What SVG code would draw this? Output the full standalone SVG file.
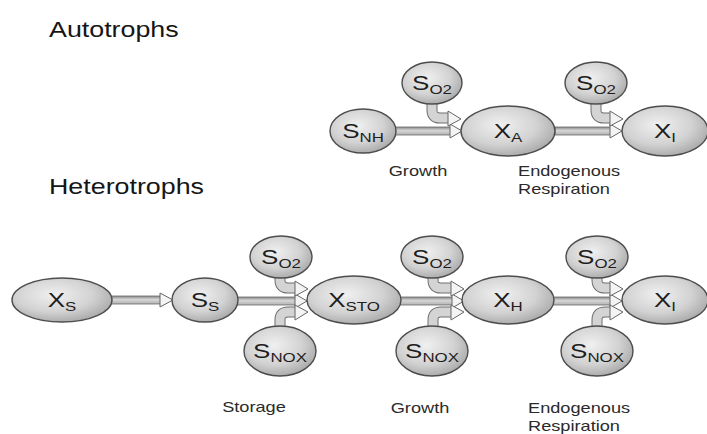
<svg xmlns="http://www.w3.org/2000/svg" width="707" height="434" viewBox="0 0 707 434">
  <defs>
    <radialGradient id="nodeFill" cx="42%" cy="38%" r="65%">
      <stop offset="0" stop-color="#f0f0f0"/>
      <stop offset="0.6" stop-color="#d2d2d2"/>
      <stop offset="1" stop-color="#a9a9a9"/>
    </radialGradient>
    <linearGradient id="shaftFill" x1="0" y1="0" x2="0" y2="1">
      <stop offset="0" stop-color="#8a8a8a"/>
      <stop offset="0.45" stop-color="#d6d6d6"/>
      <stop offset="1" stop-color="#b0b0b0"/>
    </linearGradient>
    <style>
      .node ellipse { fill: url(#nodeFill); stroke: #4d4d4d; stroke-width: 1.4; }
      .lbl { font-family: "Liberation Sans", Arial, sans-serif; font-size: 20px; fill: #1e1e1e; text-anchor: middle; }
      .lbl tspan.sub { font-size: 13px; }
      .title { font-family: "Liberation Sans", Arial, sans-serif; font-size: 22px; fill: #151515; }
      .note { font-family: "Liberation Sans", Arial, sans-serif; font-size: 14px; fill: #2a2a2a; }
      .shaft { fill: url(#shaftFill); stroke: #6a6a6a; stroke-width: 0.8; }
      .head { fill: #f4f4f4; stroke: #666; stroke-width: 1; stroke-linejoin: miter; }
      .bandOut { fill: none; stroke: #6e6e6e; stroke-width: 11; }
      .bandIn { fill: none; stroke: #d4d4d4; stroke-width: 9; }
    </style>
  </defs>

  <rect width="707" height="434" fill="#ffffff"/>

  <!-- section titles -->
  <text class="title" transform="translate(49 37) scale(1.22 1)">Autotrophs</text>
  <text class="title" transform="translate(49 194) scale(1.22 1)">Heterotrophs</text>

  <!-- process labels -->
  <text class="note" text-anchor="middle" transform="translate(418 176) scale(1.3 1)">Growth</text>
  <text class="note" transform="translate(518 176) scale(1.3 1)">Endogenous</text>
  <text class="note" transform="translate(518 194) scale(1.3 1)">Respiration</text>
  <text class="note" text-anchor="middle" transform="translate(254 412) scale(1.3 1)">Storage</text>
  <text class="note" text-anchor="middle" transform="translate(420 413) scale(1.3 1)">Growth</text>
  <text class="note" transform="translate(528 413) scale(1.3 1)">Endogenous</text>
  <text class="note" transform="translate(528 431) scale(1.3 1)">Respiration</text>

  <!-- connectors -->
  <g id="connectors">
    <!-- autotrophs: S_NH -> X_A -->
    <rect class="shaft" x="395" y="127" width="56" height="8"/>
    <polygon class="head" points="450,124 462,131 450,138"/>
    <!-- S_O2 -> X_A -->
    <path class="bandOut" d="M432,102 V110 Q432,118 440,118 H449"/>
    <path class="bandIn" d="M432,102 V110 Q432,118 440,118 H450"/>
    <polygon class="head" points="448,111 461,119 448,126"/>
    <!-- X_A -> X_I -->
    <rect class="shaft" x="555" y="127" width="56" height="8"/>
    <polygon class="head" points="610,124 622,131 610,138"/>
    <!-- S_O2 -> X_I -->
    <path class="bandOut" d="M596,102 V110 Q596,118 604,118 H611"/>
    <path class="bandIn" d="M596,102 V110 Q596,118 604,118 H612"/>
    <polygon class="head" points="610,111 623,119 610,126"/>

    <!-- heterotrophs: X_S -> S_S -->
    <rect class="shaft" x="111" y="296" width="50" height="8"/>
    <polygon class="head" points="160,293 173,300 160,307"/>
    <!-- S_S -> X_STO -->
    <rect class="shaft" x="237" y="297" width="59" height="8"/>
    <polygon class="head" points="295,294 307,301 295,308"/>
    <!-- S_O2 -> X_STO -->
    <path class="bandOut" d="M280,277 V280 Q280,288 288,288 H296"/>
    <path class="bandIn" d="M280,277 V280 Q280,288 288,288 H297"/>
    <polygon class="head" points="295,281 308,289 295,296"/>
    <!-- S_NOX -> X_STO -->
    <path class="bandOut" d="M280,327 V320 Q280,312 288,312 H296"/>
    <path class="bandIn" d="M280,327 V320 Q280,312 288,312 H297"/>
    <polygon class="head" points="295,305 308,312 295,320"/>
    <!-- X_STO -> X_H -->
    <rect class="shaft" x="399" y="297" width="54" height="8"/>
    <polygon class="head" points="452,294 464,301 452,308"/>
    <!-- S_O2 -> X_H -->
    <path class="bandOut" d="M433,277 V280 Q433,288 441,288 H452"/>
    <path class="bandIn" d="M433,277 V280 Q433,288 441,288 H453"/>
    <polygon class="head" points="451,281 464,289 451,296"/>
    <!-- S_NOX -> X_H -->
    <path class="bandOut" d="M433,327 V320 Q433,312 441,312 H452"/>
    <path class="bandIn" d="M433,327 V320 Q433,312 441,312 H453"/>
    <polygon class="head" points="451,305 464,312 451,320"/>
    <!-- X_H -> X_I -->
    <rect class="shaft" x="552" y="297" width="59" height="8"/>
    <polygon class="head" points="610,294 622,301 610,308"/>
    <!-- S_O2 -> X_I -->
    <path class="bandOut" d="M597,277 V280 Q597,288 605,288 H611"/>
    <path class="bandIn" d="M597,277 V280 Q597,288 605,288 H612"/>
    <polygon class="head" points="610,281 623,289 610,296"/>
    <!-- S_NOX -> X_I -->
    <path class="bandOut" d="M597,327 V320 Q597,312 605,312 H611"/>
    <path class="bandIn" d="M597,327 V320 Q597,312 605,312 H612"/>
    <polygon class="head" points="610,305 623,312 610,320"/>
  </g>

  <!-- autotroph nodes -->
  <g id="a_snh" class="node">
    <ellipse cx="363" cy="131" rx="33" ry="22"/>
    <text class="lbl" transform="translate(363 138) scale(1.3 1)">S<tspan class="sub" dy="4">NH</tspan></text>
  </g>
  <g id="a_so2_growth" class="node">
    <ellipse cx="432" cy="83" rx="30" ry="21"/>
    <text class="lbl" transform="translate(432 90) scale(1.3 1)">S<tspan class="sub" dy="4">O2</tspan></text>
  </g>
  <g id="a_xa" class="node">
    <ellipse cx="508" cy="131" rx="47" ry="25"/>
    <text class="lbl" transform="translate(508 138) scale(1.3 1)">X<tspan class="sub" dy="4">A</tspan></text>
  </g>
  <g id="a_so2_resp" class="node">
    <ellipse cx="596" cy="83" rx="31" ry="21"/>
    <text class="lbl" transform="translate(596 90) scale(1.3 1)">S<tspan class="sub" dy="4">O2</tspan></text>
  </g>
  <g id="a_xi" class="node">
    <ellipse cx="665" cy="131" rx="43" ry="25"/>
    <text class="lbl" transform="translate(665 138) scale(1.3 1)">X<tspan class="sub" dy="4">I</tspan></text>
  </g>

  <!-- heterotroph nodes -->
  <g id="h_xs" class="node">
    <ellipse cx="62" cy="300" rx="50" ry="22"/>
    <text class="lbl" transform="translate(62 307) scale(1.3 1)">X<tspan class="sub" dy="4">S</tspan></text>
  </g>
  <g id="h_ss" class="node">
    <ellipse cx="205" cy="300" rx="33" ry="22"/>
    <text class="lbl" transform="translate(205 307) scale(1.3 1)">S<tspan class="sub" dy="4">S</tspan></text>
  </g>
  <g id="h_so2_storage" class="node">
    <ellipse cx="281" cy="257" rx="31" ry="21"/>
    <text class="lbl" transform="translate(281 264) scale(1.3 1)">S<tspan class="sub" dy="4">O2</tspan></text>
  </g>
  <g id="h_snox_storage" class="node">
    <ellipse cx="280" cy="351" rx="36" ry="25"/>
    <text class="lbl" transform="translate(280 358) scale(1.3 1)">S<tspan class="sub" dy="4">NOX</tspan></text>
  </g>
  <g id="h_xsto" class="node">
    <ellipse cx="354" cy="300" rx="47" ry="24"/>
    <text class="lbl" transform="translate(354 307) scale(1.3 1)">X<tspan class="sub" dy="4">STO</tspan></text>
  </g>
  <g id="h_so2_growth" class="node">
    <ellipse cx="432" cy="257" rx="31" ry="21"/>
    <text class="lbl" transform="translate(432 264) scale(1.3 1)">S<tspan class="sub" dy="4">O2</tspan></text>
  </g>
  <g id="h_snox_growth" class="node">
    <ellipse cx="432" cy="351" rx="36" ry="25"/>
    <text class="lbl" transform="translate(432 358) scale(1.3 1)">S<tspan class="sub" dy="4">NOX</tspan></text>
  </g>
  <g id="h_xh" class="node">
    <ellipse cx="508" cy="300" rx="46" ry="24"/>
    <text class="lbl" transform="translate(508 307) scale(1.3 1)">X<tspan class="sub" dy="4">H</tspan></text>
  </g>
  <g id="h_so2_resp" class="node">
    <ellipse cx="597" cy="257" rx="31" ry="21"/>
    <text class="lbl" transform="translate(597 264) scale(1.3 1)">S<tspan class="sub" dy="4">O2</tspan></text>
  </g>
  <g id="h_snox_resp" class="node">
    <ellipse cx="597" cy="351" rx="36" ry="25"/>
    <text class="lbl" transform="translate(597 358) scale(1.3 1)">S<tspan class="sub" dy="4">NOX</tspan></text>
  </g>
  <g id="h_xi" class="node">
    <ellipse cx="665" cy="300" rx="43" ry="24"/>
    <text class="lbl" transform="translate(665 307) scale(1.3 1)">X<tspan class="sub" dy="4">I</tspan></text>
  </g>
</svg>
